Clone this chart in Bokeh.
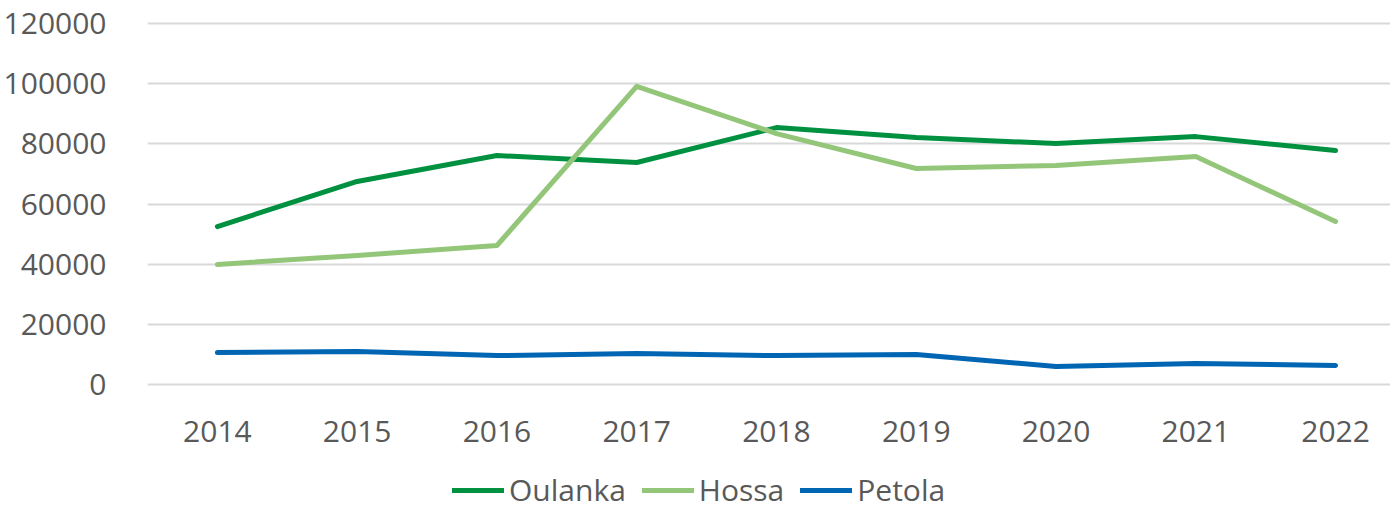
from bokeh.plotting import figure
from bokeh.models import ColumnDataSource, FixedTicker, Legend, LegendItem, Range1d, BasicTickFormatter
from bokeh.layouts import column
from bokeh.embed import file_html
from bokeh.resources import INLINE

years = [2014, 2015, 2016, 2017, 2018, 2019, 2020, 2021, 2022]
oulanka = [52500, 67500, 76100, 73800, 85400, 82100, 80100, 82400, 77800]
hossa = [39900, 42900, 46200, 99100, 83400, 71800, 72800, 75800, 54200]
petola = [10600, 11000, 9600, 10300, 9600, 10000, 6000, 7000, 6300]
y_ticks = [0, 20000, 40000, 60000, 80000, 100000, 120000]

series = [("Oulanka", oulanka, "#009140"), ("Hossa", hossa, "#94C67A"), ("Petola", petola, "#0066B3")]

FONT = "Open Sans"
TXT = "#595959"
W = 1390

p = figure(width=W, height=460, output_backend="svg", toolbar_location=None,
           x_range=Range1d(2013.5, 2022.393), y_range=Range1d(-1000, 121000),
           min_border_left=144, min_border_right=0, min_border_top=20, min_border_bottom=73)
p.outline_line_color = None

for name, vals, col in series:
    src = ColumnDataSource(dict(x=years, y=vals))
    p.line("x", "y", source=src, line_color=col, line_width=5, line_cap="round", line_join="round")

p.xaxis.ticker = FixedTicker(ticks=years)
p.yaxis.ticker = FixedTicker(ticks=y_ticks)
p.yaxis.formatter = BasicTickFormatter(use_scientific=False)
p.xgrid.grid_line_color = None
p.ygrid.grid_line_color = "#D9D9D9"
p.ygrid.grid_line_width = 2
for ax in (p.xaxis, p.yaxis):
    ax.axis_line_color = None
    ax.major_tick_line_color = None
    ax.minor_tick_line_color = None
    ax.major_label_text_font = FONT
    ax.major_label_text_font_size = "30px"
    ax.major_label_text_color = TXT
p.xaxis.major_label_standoff = 27
p.yaxis.major_label_standoff = 35

# legend strip (same series, drawn outside its visible range so only the legend shows)
q = figure(width=W, height=50, output_backend="svg", toolbar_location=None,
           x_axis_location=None, y_axis_location=None,
           x_range=Range1d(2013.5, 2022.393), y_range=Range1d(-10, -5),
           min_border_left=0, min_border_right=0, min_border_top=0, min_border_bottom=0)
q.outline_line_color = None
q.grid.visible = False
items = []
for name, vals, col in series:
    src = ColumnDataSource(dict(x=years, y=vals))
    r = q.line("x", "y", source=src, line_color=col, line_width=5, line_cap="round")
    items.append(LegendItem(label=name, renderers=[r]))

legend = Legend(items=items, orientation="horizontal", location=(305, 0))
legend.label_text_font = FONT
legend.label_text_font_size = "30px"
legend.label_text_color = TXT
legend.glyph_width = 52
legend.label_standoff = 5
legend.spacing = 16
legend.border_line_color = None
legend.background_fill_alpha = 0
legend.padding = 0
legend.margin = 0
q.add_layout(legend)

layout = column(p, q, spacing=0)
open("out.html", "w").write(file_html(layout, INLINE))
